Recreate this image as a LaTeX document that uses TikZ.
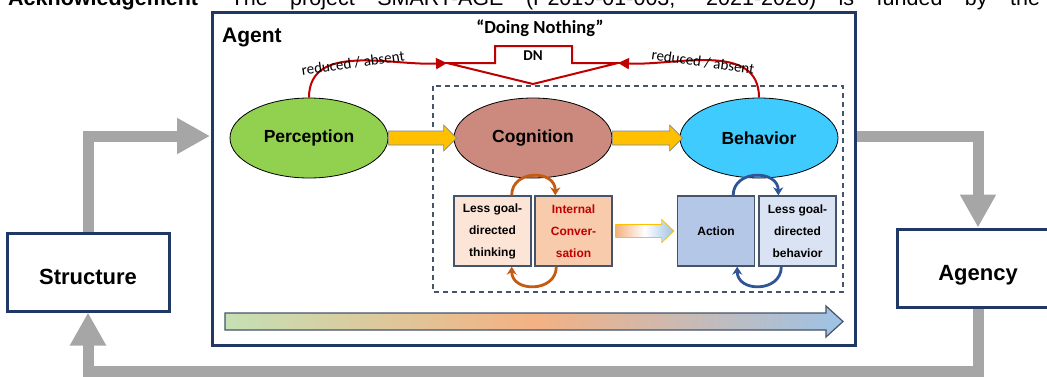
\documentclass[tikz,border=0pt]{standalone}
\usepackage{fontspec}
\setmainfont{Liberation Sans}
\newfontfamily\calfont{Carlito}
\usetikzlibrary{arrows.meta,shapes.geometric}
\definecolor{navy}{HTML}{1F3864}
\definecolor{slate}{HTML}{44546A}
\definecolor{flowgrey}{HTML}{A6A6A6}
\definecolor{dnred}{HTML}{C00000}
\definecolor{percgreen}{HTML}{92D050}
\definecolor{cogrose}{HTML}{CC8A7E}
\definecolor{behblue}{HTML}{40CBFF}
\definecolor{peachlt}{HTML}{FCE4D6}
\definecolor{peach}{HTML}{F8CBAD}
\definecolor{actblue}{HTML}{B4C7E7}
\definecolor{lgbblue}{HTML}{DAE3F3}
\definecolor{looporange}{HTML}{C55A11}
\definecolor{loopblue}{HTML}{2F5597}
\definecolor{arrowyel}{HTML}{FFC000}
\definecolor{gradgreen}{HTML}{C5E0B4}
\definecolor{gradorange}{HTML}{F4B183}
\definecolor{gradblue}{HTML}{9DC3E6}
\begin{document}
\begin{tikzpicture}[x=1pt,y=-1pt,
	outerbox/.style={draw=navy, line width=3pt, fill=white, minimum width=162pt, minimum height=78pt, text height=24.5pt, text depth=0pt, font=\bfseries\fontsize{22}{26}\selectfont},
	stage/.style={ellipse, draw=black, line width=0.8pt, minimum width=158pt, minimum height=80pt, inner sep=0pt, font=\bfseries\fontsize{17.5}{20}\selectfont},
	subbox/.style={draw=slate, line width=1.4pt, minimum width=77pt, minimum height=70pt, inner sep=0pt, align=center, font=\bfseries\fontsize{12}{22}\selectfont},
	flow/.style={draw=flowgrey, line width=11pt},
	flowtip/.style={-{Triangle[width=34pt,length=33pt]}},
	dnline/.style={draw=dnred, line width=2pt},
	redtip/.style={-{Triangle[width=11pt,length=11pt]}},
	yarrow/.style={fill=arrowyel, draw=slate!70, line width=0.6pt},
	loopor/.style={draw=looporange, line width=2.8pt, -{Stealth[length=8pt,width=10pt]}},
	loopbl/.style={draw=loopblue, line width=2.8pt, -{Stealth[length=8pt,width=10pt]}},
	calsmall/.style={font=\calfont\fontsize{15}{17}\selectfont}]
	\useasboundingbox (0,0) rectangle (1047,376);
	\clip (0,0) rectangle (1047,376);

	% running text cut at the top
	\node (ack) at (8,5) [anchor=base west, inner sep=0pt, font=\fontsize{21.5}{24}\selectfont]
		{\makebox[1032pt][s]{\textbf{Acknowledgement}\hspace{10pt} The project SMART-AGE (P2019-01-003; 2021-2026) is funded by the}};

	% outer boxes and grey loop
	\node (structure) at (88,272) [outerbox] {Structure};
	\node (agency) at (978,268) [outerbox] {Agency};
	\coordinate (inL) at (210,136);
	\coordinate (outR) at (855,136);
	\draw[flow,flowtip] (structure.north) |- (inL);
	\draw[flow,flowtip] (outR) -| (agency.north);
	\draw[flow,flowtip] (agency.south) |- (88,371) -- (structure.south);

	% agent frame
	\node (agent) at (533.5,178.5) [draw=navy, line width=3pt, fill=white, minimum width=643pt, minimum height=333pt] {};
	\node (agentlbl) at (222,37) [anchor=west, inner sep=0pt, font=\bfseries\fontsize{21}{24}\selectfont] {Agent};
	\draw[slate, line width=1.3pt, dash pattern=on 5pt off 4pt] (433,86) rectangle (843,292);

	% stages
	\node (perc) at (309,138) [stage, fill=percgreen] {Perception};
	\node (cog) at (533,138) [stage, fill=cogrose] {Cognition};
	\node (beh) at (759,138) [stage, fill=behblue] {Behavior};
	\path[yarrow] ([yshift=7pt]perc.east) -- ([xshift=-10pt,yshift=7pt]cog.west) -- ([xshift=-10pt,yshift=13pt]cog.west)
		-- ([xshift=3pt]cog.west) -- ([xshift=-10pt,yshift=-13pt]cog.west) -- ([xshift=-10pt,yshift=-7pt]cog.west)
		-- ([yshift=-7pt]perc.east) -- cycle;
	\path[yarrow] ([yshift=7pt]cog.east) -- ([xshift=-10pt,yshift=7pt]beh.west) -- ([xshift=-10pt,yshift=13pt]beh.west)
		-- ([xshift=3pt]beh.west) -- ([xshift=-10pt,yshift=-13pt]beh.west) -- ([xshift=-10pt,yshift=-7pt]beh.west)
		-- ([yshift=-7pt]cog.east) -- cycle;

	% "doing nothing"
	\node (dolbl) at (540,28) [inner sep=0pt, font=\calfont\bfseries\fontsize{18.5}{20}\selectfont] {“Doing Nothing”};
	\coordinate (dnL) at (447,63);
	\coordinate (dnR) at (618,63);
	\draw[dnline, line join=miter] (dnL) -- (495,63) -- (495,46) -- (572,46) -- (572,63) -- (dnR) -- (533,84) -- cycle;
	\node (dn) at (533,56) [inner sep=0pt, font=\calfont\bfseries\fontsize{15}{16}\selectfont] {DN};
	\draw[dnline,redtip] (perc.north) to[out=90,in=183] (dnL);
	\draw[dnline,redtip] (beh.north) to[out=90,in=-3] (dnR);
	\node (redl) at (353,63) [calsmall, rotate=8] {reduced / absent};
	\node (redr) at (703,62) [calsmall, rotate=-8] {reduced / absent};

	% inner loops
	\node (lgt) at (492.5,231) [subbox, fill=peachlt] {Less goal-\\directed\\thinking};
	\node (ic) at (573.5,231) [subbox, fill=peach, text=dnred] {Internal\\Conver-\\sation};
	\node (act) at (716,231) [subbox, fill=actblue] {Action};
	\node (lgb) at (797.5,231) [subbox, fill=lgbblue] {Less goal-\\directed\\behavior};
	\draw[loopor] ([xshift=-20pt]lgt.north east) .. controls +(0,-26) and +(0,-26) .. ([xshift=21pt]ic.north west);
	\draw[loopor] ([xshift=22pt]ic.south west) .. controls +(0,26) and +(0,26) .. ([xshift=-20pt]lgt.south east);
	\draw[loopbl] ([xshift=-22pt]act.north east) .. controls +(0,-26) and +(0,-26) .. ([xshift=20pt]lgb.north west);
	\draw[loopbl] ([xshift=23pt]lgb.south west) .. controls +(0,26) and +(0,26) .. ([xshift=-18pt]act.south east);
	\path[draw=arrowyel, line width=0.8pt, left color=gradorange, right color=gradblue, middle color=white]
		([xshift=3pt,yshift=6.5pt]ic.east) -- ([xshift=-15pt,yshift=6.5pt]act.west) -- ([xshift=-15pt,yshift=11.5pt]act.west)
		-- ([xshift=-3pt]act.west) -- ([xshift=-15pt,yshift=-11.5pt]act.west) -- ([xshift=-15pt,yshift=-6.5pt]act.west)
		-- ([xshift=3pt,yshift=-6.5pt]ic.east) -- cycle;

	% progression arrow
	\path[draw=slate, line width=1.2pt, left color=gradgreen, right color=gradblue, middle color=gradorange]
		(225,313) -- (826,313) -- (826,306) -- (843,321.5) -- (826,337) -- (826,330) -- (225,330) -- cycle;
\end{tikzpicture}
\end{document}
